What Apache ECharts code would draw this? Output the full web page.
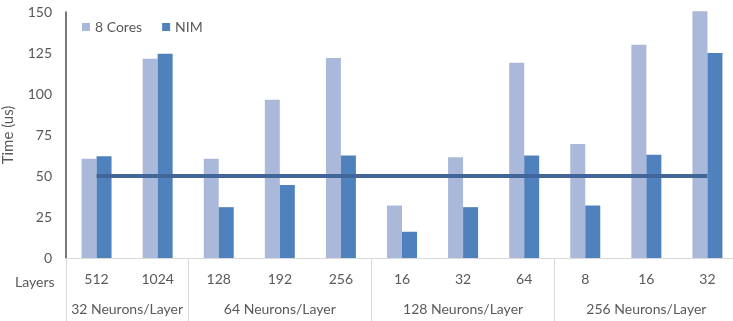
<!DOCTYPE html>
<html>
<head>
<meta charset="utf-8">
<script src="https://cdn.jsdelivr.net/npm/echarts@6/dist/echarts.min.js"></script>
<style>
  html, body { margin: 0; padding: 0; background: #ffffff; }
  #chart { width: 733px; height: 321px; }
</style>
</head>
<body>
<div id="chart"></div>
<script>
// Layer counts per network configuration
const layers = ['512', '1024', '128', '192', '256', '16', '32', '64', '8', '16', '32'];
// Neuron-per-layer groups and how many layer settings each covers
const groups = ['32 Neurons/Layer', '64 Neurons/Layer', '128 Neurons/Layer', '256 Neurons/Layer'];
const groupSizes = [2, 3, 3, 3];
// Execution time (us)
const cores8 = [60.5, 121.5, 60.5, 96.5, 122, 32, 61.5, 119, 69.5, 130, 150.5];
const nim = [62, 124.5, 31, 44.5, 62.5, 16, 31, 62.5, 32, 63, 125];
// Reference level
const refLevel = 50;
const yTicks = [0, 25, 50, 75, 100, 125, 150];

const font = 'Lato, "Liberation Sans", sans-serif';
const textGray = '#595959';

// Secondary axis on a half-category grid: boundaries tick marks, group names at centres
const halfSlots = layers.length * 2 + 1;
const boundaryIdx = new Set([0]);
const labelAt = {};
let acc = 0;
groupSizes.forEach((n, i) => {
  labelAt[acc * 2 + n] = groups[i];
  acc += n;
  boundaryIdx.add(acc * 2);
});
const groupAxisData = Array.from({ length: halfSlots }, (_, i) => labelAt[i] || '');

const chart = echarts.init(document.getElementById('chart'), null, { renderer: 'canvas' });
chart.setOption({
  animation: false,
  textStyle: { fontFamily: font },
  title: {
    text: 'Layers',
    left: 10, top: 270,
    textStyle: { fontFamily: font, fontSize: 14, fontWeight: 'normal', color: textGray }
  },
  legend: {
    data: ['8 Cores', 'NIM'],
    left: 77, top: 15,
    icon: 'rect', itemWidth: 8, itemHeight: 8, itemGap: 20,
    textStyle: { fontFamily: font, fontSize: 14, color: textGray }
  },
  grid: {
    left: 66, top: 12, width: 672, bottom: 63,
    containLabel: false,
    outerBoundsMode: 'none'
  },
  xAxis: [
    {
      type: 'category',
      data: layers,
      axisLine: { show: true, lineStyle: { color: '#d9d9d9', width: 1 } },
      axisTick: { show: false },
      axisLabel: { interval: 0, margin: 14, fontFamily: font, fontSize: 14, color: textGray }
    },
    {
      type: 'category',
      position: 'bottom',
      boundaryGap: false,
      data: groupAxisData,
      axisLine: { show: false },
      axisTick: {
        show: true, inside: false, length: 63,
        interval: (idx) => boundaryIdx.has(idx),
        lineStyle: { color: '#d9d9d9', width: 1 }
      },
      axisLabel: { interval: 0, margin: 44, fontFamily: font, fontSize: 14, color: textGray }
    }
  ],
  yAxis: {
    type: 'value',
    min: yTicks[0], max: yTicks[yTicks.length - 1], interval: 25,
    name: 'Time (us)',
    nameLocation: 'middle',
    nameGap: 50,
    nameTextStyle: { fontFamily: font, fontSize: 15, color: textGray },
    axisLine: { show: true, lineStyle: { color: '#4d4d4d', width: 1.5 } },
    axisTick: { show: false },
    splitLine: { show: false },
    axisLabel: { margin: 14, fontFamily: font, fontSize: 14, color: textGray }
  },
  series: [
    {
      name: '8 Cores', type: 'bar', data: cores8,
      barWidth: 15, barGap: '0%', clip: false,
      itemStyle: { color: '#aab9d9' }
    },
    {
      name: 'NIM', type: 'bar', data: nim,
      barWidth: 15, barGap: '0%', clip: false,
      itemStyle: { color: '#4f81bd' }
    },
    {
      name: 'Reference', type: 'line',
      data: layers.map(() => refLevel),
      symbol: 'none', z: 5,
      lineStyle: { color: '#42669a', width: 4 }
    }
  ]
});
</script>
</body>
</html>
